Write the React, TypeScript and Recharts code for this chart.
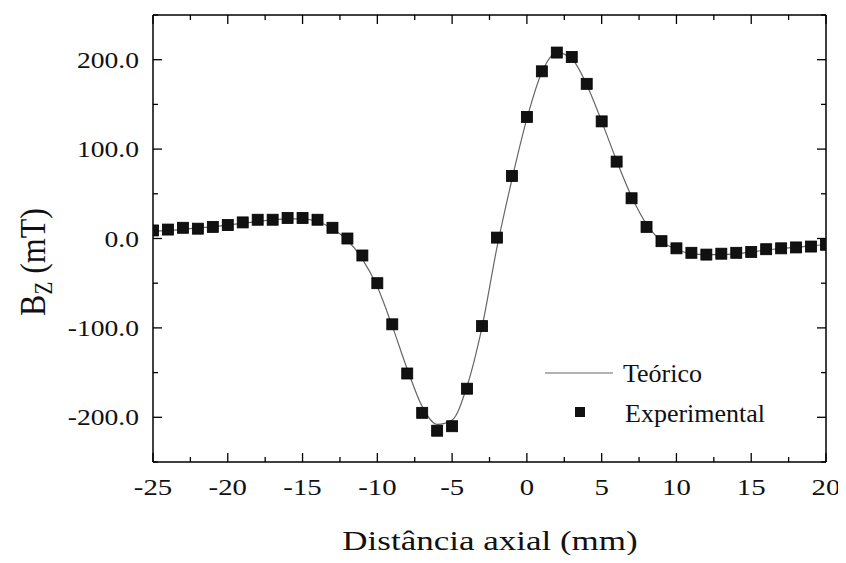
import React from "react";
import { ComposedChart, Line, XAxis, YAxis, Legend } from "recharts";

// axial position (mm)
const positions = [
  -25, -24, -23, -22, -21, -20, -19, -18, -17, -16, -15, -14, -13, -12, -11, -10,
  -9, -8, -7, -6, -5, -4, -3, -2, -1, 0, 1, 2, 3, 4, 5, 6, 7, 8, 9, 10, 11, 12,
  13, 14, 15, 16, 17, 18, 19, 20,
];

// measured Bz (mT)
const experimental = [
  9, 10, 12, 11, 13, 15, 18, 21, 21, 23, 23, 21, 12, 0, -19, -50,
  -96, -151, -195, -215, -210, -168, -98, 1, 70, 136, 187, 208, 203, 173, 131, 86,
  45, 13, -3, -11, -16, -18, -17, -16, -15, -12, -11, -10, -9, -7,
];

// calculated Bz (mT)
const theoretical = [
  8, 9, 10, 12, 13, 15, 17, 19, 21, 22, 22, 19, 11, -2, -23, -54,
  -98, -146, -188, -208, -203, -165, -99, -10, 66, 134, 186, 208, 201, 172, 131, 87,
  47, 16, -3, -12, -17, -18, -18, -17, -15, -13, -11, -10, -8, -7,
];

const xTicks = [
  -25, -22.5, -20, -17.5, -15, -12.5, -10, -7.5, -5, -2.5, 0, 2.5, 5, 7.5, 10,
  12.5, 15, 17.5, 20,
];
const yTicks = [-250, -200, -150, -100, -50, 0, 50, 100, 150, 200, 250];

const data = positions.map((x, i) => ({
  x,
  teo: theoretical[i],
  exp: experimental[i],
}));

const FONT = "'Liberation Serif', 'Times New Roman', serif";
const MAJOR = 9;
const MINOR = 5;

const isMajorX = (v: number) => v % 5 === 0;
const isMajorY = (v: number) => v % 100 === 0 && Math.abs(v) <= 200;

const BottomTick = ({ x, y, payload }: any) => {
  const major = isMajorX(payload.value);
  return (
    <g>
      <line x1={x} x2={x} y1={y} y2={y - (major ? MAJOR : MINOR)} stroke="#000" strokeWidth={1.3} />
      {major && (
        <text
          transform={`translate(${x},${y + 33}) scale(1.2,1)`}
          textAnchor="middle"
          fontSize={24}
          fontFamily={FONT}
          fill="#111"
        >
          {payload.value}
        </text>
      )}
    </g>
  );
};

const TopTick = ({ x, y, payload }: any) => (
  <line
    x1={x}
    x2={x}
    y1={y}
    y2={y + (isMajorX(payload.value) ? MAJOR : MINOR)}
    stroke="#000"
    strokeWidth={1.3}
  />
);

const LeftTick = ({ x, y, payload }: any) => {
  const major = isMajorY(payload.value);
  return (
    <g>
      <line x1={x} x2={x + (major ? MAJOR : MINOR)} y1={y} y2={y} stroke="#000" strokeWidth={1.3} />
      {major && (
        <text
          transform={`translate(${x - 14},${y + 8}) scale(1.15,1)`}
          textAnchor="end"
          fontSize={24}
          fontFamily={FONT}
          fill="#111"
        >
          {payload.value.toFixed(1)}
        </text>
      )}
    </g>
  );
};

const RightTick = ({ x, y, payload }: any) => (
  <line
    x1={x}
    x2={x - (isMajorY(payload.value) ? MAJOR : MINOR)}
    y1={y}
    y2={y}
    stroke="#000"
    strokeWidth={1.3}
  />
);

const SquareDot = ({ cx, cy, index }: any) => (
  <rect key={index} x={cx - 5.5} y={cy - 5.5} width={11} height={11} fill="#111" stroke="#000" strokeWidth={0.8} />
);

const XTitle = () => (
  <text
    transform="translate(490,550) scale(1.25,1)"
    textAnchor="middle"
    fontSize={28}
    fontFamily={FONT}
    fill="#111"
  >
    Distância axial (mm)
  </text>
);

const YTitle = () => (
  <text
    transform="translate(45,262) rotate(-90) scale(1,1.15)"
    textAnchor="middle"
    fontSize={32}
    fontFamily={FONT}
    fill="#111"
  >
    B
    <tspan fontSize={21} dy={6}>Z</tspan>
    <tspan dy={-6}> (mT)</tspan>
  </text>
);

const LegendBox = () => (
  <svg width={260} height={80} style={{ fontFamily: FONT }}>
    <line x1={5} x2={73} y1={23} y2={23} stroke="#666" strokeWidth={1.2} />
    <text x={83} y={32} fontSize={26} fill="#111">
      Teórico
    </text>
    <rect x={35} y={57} width={10} height={10} fill="#111" />
    <text x={85} y={72} fontSize={26} fill="#111">
      Experimental
    </text>
  </svg>
);

export default function App() {
  return (
    <div style={{ margin: -8, width: 846, height: 563, background: "#fff" }}>
      <ComposedChart
        width={846}
        height={563}
        data={data}
        margin={{ top: 0, right: 0, bottom: 0, left: 0 }}
      >
        <XAxis
          xAxisId="b"
          dataKey="x"
          type="number"
          domain={[-25, 20]}
          ticks={xTicks}
          interval={0}
          allowDataOverflow
          height={101}
          tickSize={0}
          tickMargin={0}
          tickLine={false}
          tick={BottomTick}
          axisLine={{ stroke: "#000", strokeWidth: 1.5 }}
          label={<XTitle />}
        />
        <XAxis
          xAxisId="t"
          orientation="top"
          dataKey="x"
          type="number"
          domain={[-25, 20]}
          ticks={xTicks}
          interval={0}
          allowDataOverflow
          height={15}
          tickSize={0}
          tickMargin={0}
          tickLine={false}
          tick={TopTick}
          axisLine={{ stroke: "#000", strokeWidth: 1.5 }}
        />
        <YAxis
          yAxisId="l"
          type="number"
          domain={[-250, 250]}
          ticks={yTicks}
          interval={0}
          allowDataOverflow
          width={153}
          tickSize={0}
          tickMargin={0}
          tickLine={false}
          tick={LeftTick}
          axisLine={{ stroke: "#000", strokeWidth: 1.5 }}
          label={<YTitle />}
        />
        <YAxis
          yAxisId="r"
          orientation="right"
          type="number"
          domain={[-250, 250]}
          ticks={yTicks}
          interval={0}
          allowDataOverflow
          width={20}
          tickSize={0}
          tickMargin={0}
          tickLine={false}
          tick={RightTick}
          axisLine={{ stroke: "#000", strokeWidth: 1.5 }}
        />
        <Legend
          layout="vertical"
          align="center"
          verticalAlign="middle"
          content={<LegendBox />}
          wrapperStyle={{ position: "absolute", left: 540, top: 350, width: 260, height: 80 }}
        />
        <Line
          xAxisId="b"
          yAxisId="l"
          name="Teórico"
          dataKey="teo"
          type="monotone"
          stroke="#666"
          strokeWidth={1.2}
          dot={false}
          activeDot={false}
          isAnimationActive={false}
        />
        <Line
          xAxisId="b"
          yAxisId="l"
          name="Experimental"
          dataKey="exp"
          stroke="none"
          dot={SquareDot}
          activeDot={false}
          isAnimationActive={false}
        />
      </ComposedChart>
    </div>
  );
}
